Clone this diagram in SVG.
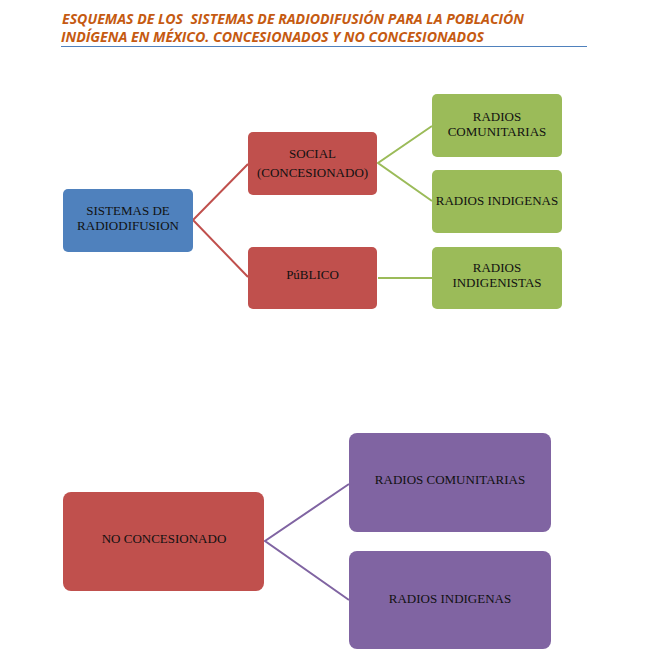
<svg xmlns="http://www.w3.org/2000/svg" width="646" height="663" viewBox="0 0 646 663">
<style>
.title{font-family:"Open Sans","Liberation Sans",sans-serif;font-size:14px;font-weight:bold;font-style:italic;fill:#C55A11}
.lbl{font-family:"Liberation Serif","DejaVu Serif",serif;font-size:13px;fill:#111;text-anchor:middle}
.blue{fill:#4F81BD}
.red{fill:#C0504D}
.green{fill:#9BBB59}
.purple{fill:#8064A2}
.c-red{stroke:#C0504D;stroke-width:2;fill:none}
.c-green{stroke:#9BBB59;stroke-width:2;fill:none}
.c-purple{stroke:#8064A2;stroke-width:2;fill:none}
</style>
<rect width="646" height="663" fill="#fff"/>
<g id="title">
<text class="title" x="62" y="23.5" textLength="462" lengthAdjust="spacingAndGlyphs" xml:space="preserve">ESQUEMAS DE LOS  SISTEMAS DE RADIODIFUSIÓN PARA LA POBLACIÓN</text>
<text class="title" x="61" y="41.5" textLength="423" lengthAdjust="spacingAndGlyphs">INDÍGENA EN MÉXICO. CONCESIONADOS Y NO CONCESIONADOS</text>
<line x1="61" y1="46.5" x2="587" y2="46.5" stroke="#4F81BD" stroke-width="1"/>
</g>
<g id="connectors">
<polyline class="c-red" points="248,164 193,220 248,277"/>
<polyline class="c-green" points="432,126 378,163 432,201"/>
<line class="c-green" x1="378" y1="278" x2="432" y2="278"/>
<polyline class="c-purple" points="349,484 265,541 349,600"/>
</g>
<g id="sistemas">
<rect class="blue" x="63" y="189" width="130" height="63" rx="5"/>
<text class="lbl" x="128" y="215">SISTEMAS DE</text>
<text class="lbl" x="128" y="230">RADIODIFUSION</text>
</g>
<g id="social">
<rect class="red" x="248" y="132" width="129" height="63" rx="5"/>
<text class="lbl" x="312.5" y="158">SOCIAL</text>
<text class="lbl" x="312.5" y="177">(CONCESIONADO)</text>
</g>
<g id="publico">
<rect class="red" x="248" y="247" width="129" height="62" rx="5"/>
<text class="lbl" x="312.5" y="279">PúBLICO</text>
</g>
<g id="comunitarias">
<rect class="green" x="432" y="94" width="130" height="63" rx="5"/>
<text class="lbl" x="497" y="121">RADIOS</text>
<text class="lbl" x="497" y="136">COMUNITARIAS</text>
</g>
<g id="indigenas">
<rect class="green" x="432" y="170" width="130" height="63" rx="5"/>
<text class="lbl" x="497" y="205">RADIOS INDIGENAS</text>
</g>
<g id="indigenistas">
<rect class="green" x="432" y="247" width="130" height="62" rx="5"/>
<text class="lbl" x="497" y="272">RADIOS</text>
<text class="lbl" x="497" y="287">INDIGENISTAS</text>
</g>
<g id="noconcesionado">
<rect class="red" x="63" y="492" width="201" height="99" rx="8"/>
<text class="lbl" x="164" y="543">NO CONCESIONADO</text>
</g>
<g id="comunitarias2">
<rect class="purple" x="349" y="433" width="202" height="99" rx="8"/>
<text class="lbl" x="450" y="484">RADIOS COMUNITARIAS</text>
</g>
<g id="indigenas2">
<rect class="purple" x="349" y="551" width="202" height="98" rx="8"/>
<text class="lbl" x="450" y="603">RADIOS INDIGENAS</text>
</g>
</svg>
